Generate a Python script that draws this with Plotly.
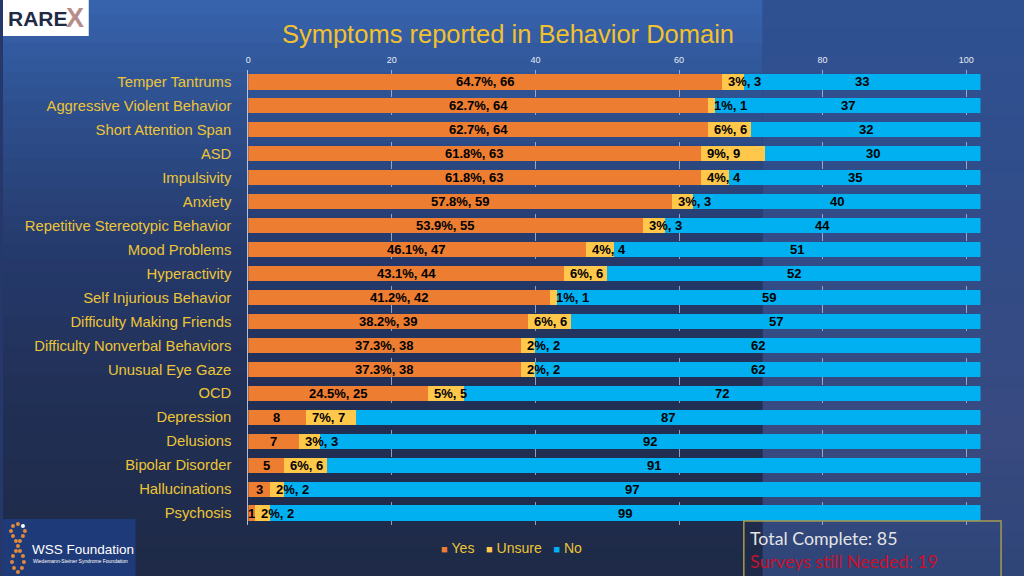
import plotly.graph_objects as go

# ---------------- data ----------------
categories = [
    "Temper Tantrums", "Aggressive Violent Behavior", "Short Attention Span", "ASD",
    "Impulsivity", "Anxiety", "Repetitive Stereotypic Behavior", "Mood Problems",
    "Hyperactivity", "Self Injurious Behavior", "Difficulty Making Friends",
    "Difficulty Nonverbal Behaviors", "Unusual Eye Gaze", "OCD", "Depression",
    "Delusions", "Bipolar Disorder", "Hallucinations", "Psychosis",
]
yes_counts = [66, 64, 64, 63, 63, 59, 55, 47, 44, 42, 39, 38, 38, 25, 8, 7, 5, 3, 1]
yes_pct = ["64.7%", "62.7%", "62.7%", "61.8%", "61.8%", "57.8%", "53.9%", "46.1%",
           "43.1%", "41.2%", "38.2%", "37.3%", "37.3%", "24.5%", None, None, None, None, None]
unsure_counts = [3, 1, 6, 9, 4, 3, 3, 4, 6, 1, 6, 2, 2, 5, 7, 3, 6, 2, 2]
unsure_pct = ["3%", "1%", "6%", "9%", "4%", "3%", "3%", "4%", "6%", "1%", "6%", "2%",
              "2%", "5%", "7%", "3%", "6%", "2%", "2%"]
no_counts = [33, 37, 32, 30, 35, 40, 44, 51, 52, 59, 57, 62, 62, 72, 87, 92, 91, 97, 99]
x_ticks = [0, 20, 40, 60, 80, 100]
series_names = ["Yes", "Unsure", "No"]

title_text = "Symptoms reported in Behavior Domain"
total_complete = 85
surveys_needed = 19

# ---------------- styles ----------------
C_YES = "#ED7D31"
C_UNSURE = "#FFC84A"
C_NO = "#00B0F0"
series_colors = [C_YES, C_UNSURE, C_NO]
GOLD = "#EDC535"
W, H = 1024, 576
LBL_FONT = dict(family="Liberation Sans, Arial", size=13, color="black", weight="bold")

fig = go.Figure()
for name, vals, col in zip(series_names, [yes_counts, unsure_counts, no_counts], series_colors):
    fig.add_trace(go.Bar(name=name, y=categories, x=vals, orientation="h",
                         marker=dict(color=col, line=dict(width=0)), hoverinfo="x+y+name"))

annotations = []
for cat, yc, yp, uc, up, nc in zip(categories, yes_counts, yes_pct, unsure_counts, unsure_pct, no_counts):
    ytxt = f"{yp}, {yc}" if yp else f"{yc}"
    annotations.append(dict(x=yc / 2, y=cat, xref="x", yref="y", text=ytxt, showarrow=False,
                            xanchor="center", yanchor="middle", font=LBL_FONT))
    annotations.append(dict(x=yc, y=cat, xref="x", yref="y", text=f"{up}, {uc}", showarrow=False,
                            xanchor="left", yanchor="middle", xshift=4, font=LBL_FONT))
    annotations.append(dict(x=yc + uc + nc / 2, y=cat, xref="x", yref="y", text=f"{nc}",
                            showarrow=False, xanchor="center", yanchor="middle", font=LBL_FONT))

# ---------------- background (decorative gradient bands) ----------------
shapes = []


def lerp(c1, c2, t):
    a = [int(c1[i:i + 2], 16) for i in (1, 3, 5)]
    b = [int(c2[i:i + 2], 16) for i in (1, 3, 5)]
    return "#" + "".join(f"{round(a[k] + (b[k] - a[k]) * t):02x}" for k in range(3))


def gradient(stops, x0, x1, n=40):
    out = []
    for i in range(n):
        f0, f1 = i / n, (i + 1) / n
        fm = (f0 + f1) / 2
        col = stops[-1][1]
        for j in range(len(stops) - 1):
            if stops[j][0] <= fm <= stops[j + 1][0]:
                t = (fm - stops[j][0]) / (stops[j + 1][0] - stops[j][0])
                col = lerp(stops[j][1], stops[j + 1][1], t)
                break
        out.append(dict(type="rect", xref="paper", yref="paper", x0=x0, x1=x1,
                        y0=1 - f1 - 0.002, y1=1 - f0, fillcolor=col, line=dict(width=0),
                        layer="below"))
    return out


# fractions measured from top
left_stops = [(0.0, "#3764AE"), (0.18, "#2E508F"), (0.45, "#25396A"), (0.7, "#212F55"), (1.0, "#1E2A46")]
right_stops = [(0.0, "#2F5192"), (0.4, "#314C88"), (0.75, "#384A80"), (1.0, "#2F4578")]
shapes += gradient(left_stops, 0, 762 / W)
shapes += gradient(right_stops, 762 / W, 1)

# RAREX logo box
shapes.append(dict(type="rect", xref="paper", yref="paper", x0=0, x1=86 / W,
                   y0=1 - 36 / H, y1=1, fillcolor="white", line=dict(width=0), layer="above"))
# WSS logo box
shapes.append(dict(type="rect", xref="paper", yref="paper", x0=0, x1=133 / W,
                   y0=0, y1=(H - 519) / H, fillcolor="#1F3A78", line=dict(width=0), layer="above"))
# DNA-like dots
dna = [(10, 526), (15, 524), (20, 526), (8, 531), (22, 531), (10, 536), (20, 536), (13, 541),
       (17, 541), (15, 546), (13, 551), (17, 551), (10, 556), (20, 556), (9, 562), (21, 562),
       (11, 568), (19, 568), (15, 572)]
for i, (px, py) in enumerate(dna):
    col = "white" if i == 2 else "#E08A3C"
    shapes.append(dict(type="circle", xref="paper", yref="paper",
                       x0=(px - 2) / W, x1=(px + 2) / W, y0=(H - py - 2) / H, y1=(H - py + 2) / H,
                       fillcolor=col, line=dict(width=0), layer="above"))
# total box
shapes.append(dict(type="rect", xref="paper", yref="paper", x0=743 / W, x1=1001 / W,
                   y0=-0.02, y1=(H - 521) / H, fillcolor="rgba(0,0,0,0)",
                   line=dict(color="#A89A52", width=1.5), layer="above"))

# compact legend (swatch glued to label, like the reference)
NB = "\u00a0"
legend_html = (NB * 3).join(
    f'<span style="color:{c};font-size:11px">■</span>{NB}{n}' for n, c in zip(series_names, series_colors))

annotations += [
    dict(x=3 / W, y=1 - 18 / H, xref="paper", yref="paper", xanchor="left", yanchor="middle",
         text="RARE", showarrow=False,
         font=dict(family="Liberation Sans, Arial", size=21, color="#1F2A44", weight="bold")),
    dict(x=61 / W, y=1 - 18 / H, xref="paper", yref="paper", xanchor="left", yanchor="middle",
         text="X", showarrow=False,
         font=dict(family="Liberation Sans, Arial", size=27, color="#B98C8C", weight="bold")),
    dict(x=27 / W, y=1 - 549 / H, xref="paper", yref="paper", xanchor="left", yanchor="middle",
         text="WSS Foundation", showarrow=False,
         font=dict(family="Liberation Sans Narrow, Liberation Sans, Arial", size=13.5, color="white")),
    dict(x=28 / W, y=1 - 561 / H, xref="paper", yref="paper", xanchor="left", yanchor="middle",
         text="Wiedemann-Steiner Syndrome Foundation", showarrow=False,
         font=dict(family="Liberation Sans Narrow, Liberation Sans, Arial", size=5, color="white")),
    dict(x=510 / W, y=1 - 548 / H, xref="paper", yref="paper", xanchor="center", yanchor="middle",
         text=legend_html, showarrow=False,
         font=dict(family="Liberation Sans, Arial", size=14, color=GOLD)),
    dict(x=747 / W, y=1 - 538 / H, xref="paper", yref="paper", xanchor="left", yanchor="middle",
         text=f"Total Complete: {total_complete}", showarrow=False,
         font=dict(family="Lato, Open Sans", size=17.8, color="#E4E4E4")),
    dict(x=747 / W, y=1 - 561 / H, xref="paper", yref="paper", xanchor="left", yanchor="middle",
         text=f"Surveys still Needed: {surveys_needed}", showarrow=False,
         font=dict(family="Lato, Open Sans", size=17.8, color="#C8102E")),
]

fig.update_layout(
    width=W, height=H,
    margin=dict(l=0, r=0, t=0, b=0),
    barmode="stack",
    bargap=0.37,
    paper_bgcolor="#26386A",
    plot_bgcolor="rgba(0,0,0,0)",
    title=dict(text=title_text, x=508 / W, y=1 - 34 / H, xanchor="center", yanchor="middle",
               font=dict(family="Liberation Sans, Arial", size=25.5, color="#F2C12E")),
    xaxis=dict(domain=[246 / W, (246 + 7.2 * 102) / W], range=[0, 102], side="top",
               tickvals=x_ticks, ticktext=[str(v) for v in x_ticks],
               tickfont=dict(family="Liberation Sans, Arial", size=9, color="#E8ECF4"),
               showgrid=True, gridcolor="rgba(200,205,225,0.7)", griddash="dash", gridwidth=1,
               zeroline=False, showline=False, ticks="", ticklabelstandoff=4, fixedrange=True),
    yaxis=dict(domain=[(H - 525) / H, (H - 70) / H], autorange="reversed",
               categoryorder="array", categoryarray=categories,
               tickfont=dict(family="Liberation Sans, Arial", size=14.8, color=GOLD),
               showline=True, linecolor="rgba(220,225,240,0.8)", linewidth=1,
               showgrid=False, zeroline=False, ticks="", ticklabelstandoff=13, fixedrange=True),
    showlegend=False,
    shapes=shapes,
    annotations=annotations,
)

fig.write_html("out.html", post_script="document.body.style.margin='0';",
               config={"displayModeBar": False})
